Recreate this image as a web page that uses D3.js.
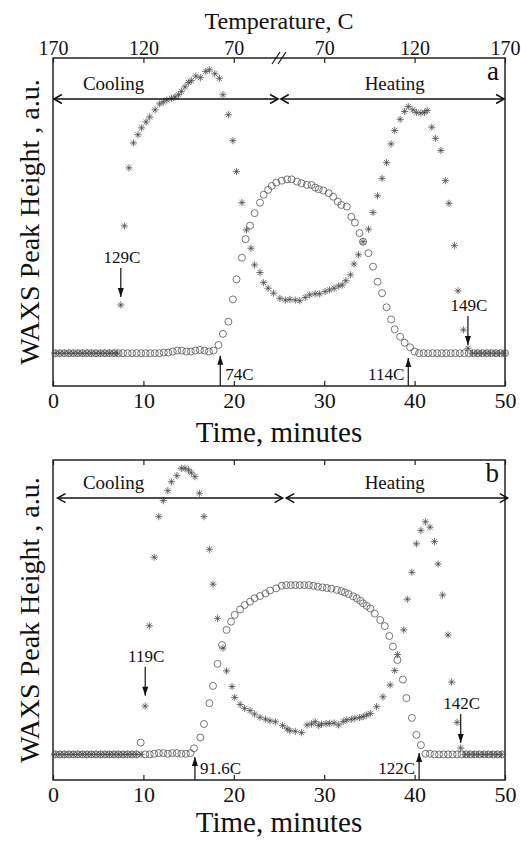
<!DOCTYPE html>
<html>
<head>
<title>WAXS peak height vs time</title>
<script src="https://cdn.jsdelivr.net/npm/d3@7"></script>
<style type="text/css">
body { margin: 0; background: #fff; }
text { font-family: "Liberation Serif", "Times New Roman", serif; fill: #111; }
.frame { fill: none; stroke: #222; stroke-width: 1.5px; }
.tick line { stroke: #222; stroke-width: 1.2px; }
.star { fill: none; stroke: #444; stroke-width: 0.75px; }
.circ { fill: none; stroke: #555; stroke-width: 0.8px; }
.arr { fill: none; stroke: #111; stroke-width: 1.5px; }
.ann { stroke: #111; stroke-width: 1.2px; }
</style>
</head>
<body>
<div id="chart"></div>
<script type="text/javascript">
// axis labels
var timeTicks = [0, 10, 20, 30, 40, 50];
var tempLabels = [170, 120, 70, 70, 120, 170];

// panel a: stars
var starTimeA = [0.25,0.75,1.25,1.75,2.25,2.75,3.25,3.75,4.25,4.75,5.25,5.75,6.25,6.75,7.1,
  7.5,7.9,8.4,8.9,9.4,9.8,10.3,10.7,11.3,11.8,12.2,12.6,13.1,13.5,13.9,14.2,14.6,15.0,15.3,15.8,
  16.3,16.9,17.3,17.9,18.4,18.8,19.4,19.9,20.3,20.9,21.4,21.9,22.3,22.9,23.3,23.8,24.4,25.1,25.7,
  26.2,26.8,27.3,27.9,28.4,29.0,29.5,30.1,30.6,31.1,31.6,32.0,32.4,32.9,33.3,33.8,34.3,34.9,35.4,
  35.9,36.4,36.9,37.4,37.8,38.4,38.9,39.3,39.8,40.2,40.7,41.1,41.4,41.9,42.3,42.9,43.4,43.8,44.4,
  44.8,45.4,45.9,46.4,46.9,47.4,47.9,48.4,48.9,49.4,49.9];
var starValA = [10,10,10,10,10,10,10,10,10,10,10,10,10,10,10,
  24.7,48.8,66.5,74.1,76.6,78.7,80.5,82.0,84.2,86.0,86.6,87.2,87.7,88.1,88.8,89.8,91.2,92.5,93.1,94.5,
  94.0,95.9,96.4,95.2,93.8,88.8,82.7,74.8,65.4,55.9,47.6,42.0,36.9,34.6,31.5,29.8,28.3,26.7,26.2,
  26.4,26.2,26.0,27.0,27.8,28.1,28.1,28.8,29.3,29.8,30.5,30.8,32.1,33.9,37.2,40.0,44.0,47.8,52.9,
  58.0,63.3,68.1,73.8,77.9,81.3,83.7,85.2,84.2,83.4,83.2,83.4,84.0,78.9,75.5,71.8,62.6,55.7,42.8,
  29.0,17.1,11.5,10,10,10,10,10,10,10,10];

// panel a: circles
var circTimeA = [0.25,0.75,1.25,1.75,2.25,2.75,3.25,3.75,4.25,4.75,5.25,5.75,6.25,6.75,7.25,7.75,
  8.25,8.75,9.25,9.75,10.25,10.75,11.25,11.75,12.25,12.75,13.25,13.75,14.25,14.75,15.25,15.75,16.25,
  16.75,17.25,17.75,18.3,18.8,19.4,19.9,20.3,20.9,21.3,21.8,22.3,22.9,23.3,23.8,24.2,24.7,25.3,25.9,
  26.4,27.0,27.5,28.1,28.6,29.0,29.4,29.9,30.5,31.0,31.5,31.9,32.5,33.0,33.4,33.9,34.3,34.9,35.4,
  35.9,36.4,36.9,37.4,37.8,38.4,38.9,39.5,40.0,40.5,41.0,41.5,42.0,42.5,43.0,43.5,44.0,44.5,45.0,
  45.5,46.0,46.5,47.0,47.5,48.0,48.5,49.0,49.5,50.0];
var circValA = [10,10,10,10,10,10,10,10,10,10,10,10,10,10,10,10,
  10,10,10,10,10,10,10,10,10.2,10.2,10.5,10.8,10.8,10.5,10.5,10.8,11,
  10.8,10.5,10.8,12.5,15.9,19.6,26.4,32.5,39.1,44.8,48.9,52.7,55.9,58.3,59.8,61.0,62.0,62.6,63.0,
  63.0,62.3,61.8,61.3,61.3,60.5,60.0,59.6,58.8,57.7,56.2,55.2,54.7,51.6,49.8,46.6,44.0,40.5,36.4,
  31.8,28.3,24.0,20.3,17.3,15.0,13.2,11.8,10.5,10,10,10,10,10,10,10,10,10,10,
  10,10,10,10,10,10,10,10,10,10];

// panel b: stars
var starTimeB = [0.25,0.75,1.25,1.75,2.25,2.75,3.25,3.75,4.25,4.75,5.25,5.75,6.25,6.75,7.25,7.75,
  8.25,8.75,9.25,9.75,10.2,10.65,11.2,11.7,12.2,12.7,13.1,13.7,14.2,14.6,15.0,15.3,15.7,16.2,16.7,
  17.3,17.7,18.2,18.8,19.2,19.8,20.1,20.7,21.2,21.8,22.3,22.9,23.5,24.0,24.6,25.4,25.9,26.2,26.8,
  27.5,28.1,28.6,29.0,29.4,29.7,30.2,30.6,31.1,31.6,32.1,32.5,33.0,33.4,33.9,34.3,34.7,35.1,35.8,
  36.5,37.3,37.8,38.1,38.8,39.2,39.7,40.2,40.7,41.2,41.7,42.2,42.6,43.1,43.7,44.1,44.7,45.1,45.6,
  46.1,46.6,47.1,47.6,48.1,48.6,49.1,49.6];
var starValB = [8,8,8,8,8,8,8,8,8,8,8,8,8,8,8,8,
  8,8,8,8,23.1,48.2,69.6,82.3,87.3,90.4,93.2,95.1,97.4,97.4,96.9,96.0,94.8,89.6,82.3,
  72.1,61.2,50.5,41.2,34.1,29.2,25.8,23.6,22.4,21.7,20.6,19.6,19.0,18.5,18.2,17.0,16.0,15.4,15.2,
  14.8,17.2,17.5,18.2,17.0,17.5,17.6,17.7,17.8,17.2,18.3,18.8,19.0,19.3,19.5,19.8,20.3,20.8,22.9,
  26.0,29.7,34.2,39.2,46.9,56.5,64.9,73.8,78.0,80.7,79.0,74.5,67.5,57.8,45.3,30.6,18.0,10.0,8,
  8,8,8,8,8,8,8,8];

// panel b: circles
var circTimeB = [0.25,0.75,1.25,1.75,2.25,2.75,3.25,3.75,4.25,4.75,5.25,5.75,6.25,6.75,7.25,7.75,
  8.25,8.75,9.25,9.7,10.2,10.7,11.2,11.7,12.2,12.7,13.2,13.7,14.2,14.7,15.2,15.6,16.3,16.7,17.3,
  17.7,18.2,18.7,19.2,19.7,20.1,20.7,21.2,21.8,22.3,22.9,23.5,24.0,24.7,25.3,25.8,26.3,26.8,27.3,
  27.8,28.3,28.8,29.3,29.8,30.3,30.8,31.4,31.9,32.3,32.7,33.2,33.6,34.0,34.3,34.7,35.1,35.6,36.2,
  36.7,37.2,37.6,38.1,38.7,39.1,39.7,40.2,40.7,41.2,41.7,42.2,42.7,43.2,43.7,44.2,44.7,45.2,45.7,
  46.2,46.7,47.2,47.7,48.2,48.7,49.2,49.7];
var circValB = [8,8,8,8,8,8,8,8,8,8,8,8,8,8,8,8,
  8,8,8,11.7,8,8,8.2,8.4,8.4,8.2,8.4,8.4,8.2,8.2,8.4,9.9,13.3,17.5,24.0,
  29.4,36.3,42.2,46.9,49.5,51.6,53.3,54.7,55.7,56.8,57.5,58.3,59.2,59.9,60.7,60.9,60.9,60.9,60.9,
  60.9,60.9,60.7,60.4,60.2,60.0,59.8,59.4,59.0,58.6,58.1,57.4,56.8,56.0,55.2,54.4,53.6,52.0,50.0,
  48.1,45.0,41.7,37.5,31.4,25.6,19.4,14.1,10.9,8.2,8.2,8,8,8,8,8,8,8,8,
  8,8,8,8,8,8,8,8];

// phases: [start, end] in minutes, arrow level and label level in a.u.
var phaseNames = ["Cooling", "Heating"];
var phaseSpanA = [[0.1, 24.9], [25.2, 49.9]];
var phaseSpanB = [[0.5, 25.4], [25.8, 50.3]];
var phaseArrowY = [87.5, 88.1];
var phaseTextY = [90.3, 91.0];

// onset annotations: label, time, value at arrow tip, kind
var annLabelA = ["129C", "74C", "114C", "149C"];
var annTimeA = [7.5, 18.5, 39.3, 45.9];
var annTipA = [27.1, 9.2, 8.5, 12.5];
var annKindA = ["down", "upRight", "upLeft", "down"];
var annLabelB = ["119C", "91.6C", "122C", "142C"];
var annTimeB = [10.2, 15.7, 40.5, 45.1];
var annTipB = [26.3, 7.2, 8.4, 11.6];
var annKindB = ["down", "upRight", "upLeft", "down"];

var W = 521, H = 841;
var svg = d3.select("#chart").append("svg").attr("width", W).attr("height", H);
var x = d3.scaleLinear().domain([0, 50]).range([53, 505]);

function starPath(s) {
  var d = s * 0.7;
  return "M0," + (-s) + "V" + s + "M" + (-s) + ",0H" + s +
    "M" + (-d) + "," + (-d) + "L" + d + "," + d + "M" + (-d) + "," + d + "L" + d + "," + (-d);
}

function panel(p) {
  var y = d3.scaleLinear().domain([0, 100]).range([p.bottom, p.top]);
  var g = svg.append("g");

  // ticks
  g.append("g").attr("transform", "translate(0," + p.bottom + ")")
    .call(d3.axisBottom(x).tickValues(timeTicks).tickSize(-5).tickPadding(6))
    .call(function(a) { a.select(".domain").remove(); })
    .selectAll("text").style("font-size", "22px").style("font-family", "Liberation Serif");
  var top = g.append("g").attr("transform", "translate(0," + p.top + ")")
    .call(d3.axisTop(x).tickValues(timeTicks).tickSize(-5).tickPadding(3)
      .tickFormat(function(d, i) { return p.temps ? tempLabels[i] : ""; }))
    .call(function(a) { a.select(".domain").remove(); });
  top.selectAll("text").style("font-size", "20px").style("font-family", "Liberation Serif");

  g.append("rect").attr("class", "frame")
    .attr("x", x(0)).attr("y", p.top)
    .attr("width", x(50) - x(0)).attr("height", p.bottom - p.top);

  if (p.temps) {
    var bx = x(25);
    [-3, 3].forEach(function(o) {
      g.append("line").attr("class", "arr").style("stroke-width", "1.2px")
        .attr("x1", bx + o - 4).attr("y1", p.top + 6)
        .attr("x2", bx + o + 4).attr("y2", p.top - 6);
    });
  }

  // data
  var circ = d3.zip(p.circT, p.circV);
  g.selectAll(".circ").data(circ).enter().append("circle").attr("class", "circ")
    .attr("cx", function(d) { return x(d[0]); })
    .attr("cy", function(d) { return y(d[1]); })
    .attr("r", 3.5);
  var stars = d3.zip(p.starT, p.starV);
  g.selectAll(".star").data(stars).enter().append("path").attr("class", "star")
    .attr("d", starPath(3.6))
    .attr("transform", function(d) { return "translate(" + x(d[0]) + "," + y(d[1]) + ")"; });

  // cooling / heating arrows
  p.spans.forEach(function(s, i) {
    var ay = y(phaseArrowY[p.idx]), x0 = x(s[0]), x1 = x(s[1]);
    g.append("line").attr("class", "arr").attr("x1", x0).attr("x2", x1).attr("y1", ay).attr("y2", ay);
    g.append("path").attr("class", "arr")
      .attr("d", "M" + (x0 + 8) + "," + (ay - 4.5) + "L" + x0 + "," + ay + "L" + (x0 + 8) + "," + (ay + 4.5) +
        "M" + (x1 - 8) + "," + (ay - 4.5) + "L" + x1 + "," + ay + "L" + (x1 - 8) + "," + (ay + 4.5));
    g.append("text").attr("x", i == 0 ? x(6.7) : x(37.8)).attr("y", y(phaseTextY[p.idx]))
      .attr("text-anchor", "middle").style("font-size", "19px").text(phaseNames[i]);
  });

  g.append("text").attr("x", x(50) - 6).attr("y", p.top + 22).attr("text-anchor", "end")
    .style("font-size", "27px").text(p.letter);

  // onset annotations
  p.annL.forEach(function(lab, i) {
    var ax = x(p.annT[i]), tip = y(p.annTip[i]), kind = p.annK[i];
    var tail, head;
    if (kind == "down") {
      tail = tip - 29;
      head = "M" + ax + "," + tip + "L" + (ax - 3) + "," + (tip - 9) + "L" + (ax + 3) + "," + (tip - 9) + "Z";
      g.append("text").attr("x", ax + 1).attr("y", tail - 5).attr("text-anchor", "middle")
        .style("font-size", "17px").text(lab);
    } else {
      tail = p.bottom;
      head = "M" + ax + "," + tip + "L" + (ax - 3) + "," + (tip + 9) + "L" + (ax + 3) + "," + (tip + 9) + "Z";
      g.append("text").attr("x", kind == "upRight" ? ax + 5 : ax - 4).attr("y", p.bottom - 6)
        .attr("text-anchor", kind == "upRight" ? "start" : "end")
        .style("font-size", "17px").text(lab);
    }
    g.append("line").attr("class", "ann").attr("x1", ax).attr("x2", ax).attr("y1", tail).attr("y2", tip);
    g.append("path").attr("d", head).style("fill", "#111");
  });

  // axis titles
  g.append("text").attr("x", (x(0) + x(50)) / 2).attr("y", p.xTitleY).attr("text-anchor", "middle")
    .style("font-size", "29px").text("Time, minutes");
  g.append("text").attr("transform", "translate(39," + ((p.top + p.bottom) / 2) + ") rotate(-90)")
    .attr("text-anchor", "middle").style("font-size", "28px").text("WAXS Peak Height , a.u.");
}

svg.append("text").attr("x", 279).attr("y", 29).attr("text-anchor", "middle")
  .style("font-size", "24px").text("Temperature, C");

panel({ idx: 0, top: 58, bottom: 386, temps: true, letter: "a", xTitleY: 442,
  starT: starTimeA, starV: starValA, circT: circTimeA, circV: circValA, spans: phaseSpanA,
  annL: annLabelA, annT: annTimeA, annTip: annTipA, annK: annKindA });
panel({ idx: 1, top: 460, bottom: 780, temps: false, letter: "b", xTitleY: 832,
  starT: starTimeB, starV: starValB, circT: circTimeB, circV: circValB, spans: phaseSpanB,
  annL: annLabelB, annT: annTimeB, annTip: annTipB, annK: annKindB });
</script>
</body>
</html>
